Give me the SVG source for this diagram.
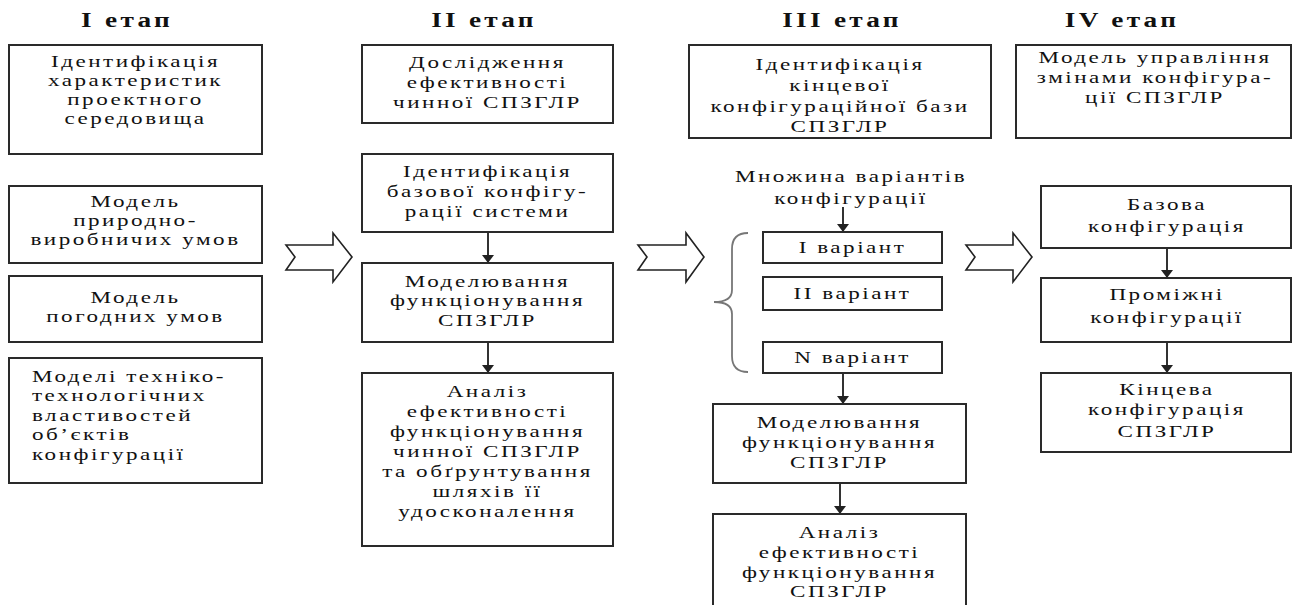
<svg xmlns="http://www.w3.org/2000/svg" width="1293" height="605" viewBox="0 0 1293 605">
<style>
.box{fill:#fff;stroke:#2a2a2a;stroke-width:2}
.t{font-family:"Liberation Serif","Times New Roman",serif;font-size:16.5px;letter-spacing:1.8px;fill:#111;text-anchor:middle}
.l{text-anchor:start}
.h{font-family:"Liberation Serif","Times New Roman",serif;font-size:21px;font-weight:bold;letter-spacing:2.5px;fill:#111;text-anchor:middle}
.c{stroke:#333;stroke-width:2;fill:none}
.big{fill:#fff;stroke:#222;stroke-width:1.6;stroke-linejoin:miter}
.brace{fill:none;stroke:#777;stroke-width:1.8}
</style>
<defs>
<marker id="ah" viewBox="0 0 8 12" refX="8" refY="6" markerWidth="8" markerHeight="12" markerUnits="userSpaceOnUse" orient="auto">
<path d="M0,0 L8,6 L0,12 z" fill="#222"/>
</marker>
</defs>
<rect width="1293" height="605" fill="#fff"/>

<g id="headers">
<text class="h" transform="translate(127 0) scale(1.3 1)" y="27">I етап</text>
<text class="h" transform="translate(484 0) scale(1.3 1)" y="27">II етап</text>
<text class="h" transform="translate(842 0) scale(1.3 1)" y="27">III етап</text>
<text class="h" transform="translate(1122 0) scale(1.3 1)" y="27">IV етап</text>
</g>

<g id="connectors">
<line class="c" x1="488" y1="232" x2="488" y2="263" marker-end="url(#ah)"/>
<line class="c" x1="488" y1="342" x2="488" y2="373" marker-end="url(#ah)"/>
<line class="c" x1="843" y1="207" x2="843" y2="232" marker-end="url(#ah)"/>
<line class="c" x1="843" y1="373" x2="843" y2="404" marker-end="url(#ah)"/>
<line class="c" x1="840" y1="483" x2="840" y2="514" marker-end="url(#ah)"/>
<line class="c" x1="1167" y1="248" x2="1167" y2="278" marker-end="url(#ah)"/>
<line class="c" x1="1167" y1="342" x2="1167" y2="373" marker-end="url(#ah)"/>
<path class="big" d="M286,245 L333,245 L333,233 L352,257 L333,282 L333,270 L286,270 L295,257 Z"/>
<path class="big" d="M638,245 L686,245 L686,233 L704,257 L686,282 L686,270 L638,270 L647,257 Z"/>
<path class="big" d="M966,245 L1013,245 L1013,233 L1032,257 L1013,282 L1013,270 L966,270 L975,257 Z"/>
<path class="brace" d="M748,233 Q732,233 732,249 L732,290 Q732,302 714,302 Q732,302 732,314 L732,356 Q732,372 748,372"/>
</g>

<g id="n1a"><rect class="box" x="9" y="45" width="253" height="109"/>
<text class="t" transform="translate(135.5 0) scale(1.4 1)" y="67">Ідентифікація</text>
<text class="t" transform="translate(135.5 0) scale(1.4 1)" y="86">характеристик</text>
<text class="t" transform="translate(135.5 0) scale(1.4 1)" y="105">проектного</text>
<text class="t" transform="translate(135.5 0) scale(1.4 1)" y="124">середовища</text></g>

<g id="n1b"><rect class="box" x="9" y="186" width="253" height="77"/>
<text class="t" transform="translate(135.5 0) scale(1.4 1)" y="207">Модель</text>
<text class="t" transform="translate(135.5 0) scale(1.4 1)" y="226">природно-</text>
<text class="t" transform="translate(135.5 0) scale(1.4 1)" y="245">виробничих умов</text></g>

<g id="n1c"><rect class="box" x="9" y="276" width="253" height="66"/>
<text class="t" transform="translate(135.5 0) scale(1.4 1)" y="303">Модель</text>
<text class="t" transform="translate(135.5 0) scale(1.4 1)" y="322">погодних умов</text></g>

<g id="n1d"><rect class="box" x="9" y="358" width="253" height="125"/>
<text class="t l" transform="translate(32 0) scale(1.4 1)" y="382">Моделі техніко-</text>
<text class="t l" transform="translate(32 0) scale(1.4 1)" y="401.5">технологічних</text>
<text class="t l" transform="translate(32 0) scale(1.4 1)" y="421">властивостей</text>
<text class="t l" transform="translate(32 0) scale(1.4 1)" y="440.5">об’єктів</text>
<text class="t l" transform="translate(32 0) scale(1.4 1)" y="460">конфігурації</text></g>

<g id="n2a"><rect class="box" x="362" y="45" width="251" height="78"/>
<text class="t" transform="translate(487.5 0) scale(1.4 1)" y="68">Дослідження</text>
<text class="t" transform="translate(487.5 0) scale(1.4 1)" y="88">ефективності</text>
<text class="t" transform="translate(487.5 0) scale(1.4 1)" y="108">чинної СПЗГЛР</text></g>

<g id="n2b"><rect class="box" x="362" y="154" width="251" height="78"/>
<text class="t" transform="translate(487.5 0) scale(1.4 1)" y="177">Ідентифікація</text>
<text class="t" transform="translate(487.5 0) scale(1.4 1)" y="197">базової конфігу-</text>
<text class="t" transform="translate(487.5 0) scale(1.4 1)" y="217">рації системи</text></g>

<g id="n2c"><rect class="box" x="362" y="263" width="251" height="79"/>
<text class="t" transform="translate(487.5 0) scale(1.4 1)" y="287">Моделювання</text>
<text class="t" transform="translate(487.5 0) scale(1.4 1)" y="306">функціонування</text>
<text class="t" transform="translate(487.5 0) scale(1.4 1)" y="326">СПЗГЛР</text></g>

<g id="n2d"><rect class="box" x="362" y="373" width="251" height="173"/>
<text class="t" transform="translate(487.5 0) scale(1.4 1)" y="397">Аналіз</text>
<text class="t" transform="translate(487.5 0) scale(1.4 1)" y="417">ефективності</text>
<text class="t" transform="translate(487.5 0) scale(1.4 1)" y="437">функціонування</text>
<text class="t" transform="translate(487.5 0) scale(1.4 1)" y="457">чинної СПЗГЛР</text>
<text class="t" transform="translate(487.5 0) scale(1.4 1)" y="477">та обґрунтування</text>
<text class="t" transform="translate(487.5 0) scale(1.4 1)" y="497">шляхів її</text>
<text class="t" transform="translate(487.5 0) scale(1.4 1)" y="517">удосконалення</text></g>

<g id="n3a"><rect class="box" x="689" y="45" width="302" height="93"/>
<text class="t" transform="translate(840 0) scale(1.4 1)" y="70">Ідентифікація</text>
<text class="t" transform="translate(840 0) scale(1.4 1)" y="91">кінцевої</text>
<text class="t" transform="translate(840 0) scale(1.4 1)" y="112">конфігураційної бази</text>
<text class="t" transform="translate(840 0) scale(1.4 1)" y="132">СПЗГЛР</text></g>

<g id="n3label">
<text class="t" transform="translate(851 0) scale(1.4 1)" y="182">Множина варіантів</text>
<text class="t" transform="translate(851 0) scale(1.4 1)" y="204">конфігурації</text></g>

<g id="n3v1"><rect class="box" x="763" y="232" width="179" height="31"/>
<text class="t" transform="translate(852.5 0) scale(1.4 1)" y="253">I варіант</text></g>

<g id="n3v2"><rect class="box" x="763" y="277" width="179" height="33"/>
<text class="t" transform="translate(852.5 0) scale(1.4 1)" y="299">II варіант</text></g>

<g id="n3vn"><rect class="box" x="763" y="342" width="179" height="31"/>
<text class="t" transform="translate(852.5 0) scale(1.4 1)" y="363">N варіант</text></g>

<g id="n3b"><rect class="box" x="713" y="404" width="253" height="79"/>
<text class="t" transform="translate(839.5 0) scale(1.4 1)" y="428">Моделювання</text>
<text class="t" transform="translate(839.5 0) scale(1.4 1)" y="448">функціонування</text>
<text class="t" transform="translate(839.5 0) scale(1.4 1)" y="468">СПЗГЛР</text></g>

<g id="n3c"><rect class="box" x="713" y="514" width="253" height="110"/>
<text class="t" transform="translate(839.5 0) scale(1.4 1)" y="538">Аналіз</text>
<text class="t" transform="translate(839.5 0) scale(1.4 1)" y="558">ефективності</text>
<text class="t" transform="translate(839.5 0) scale(1.4 1)" y="578">функціонування</text>
<text class="t" transform="translate(839.5 0) scale(1.4 1)" y="597">СПЗГЛР</text></g>

<g id="n4a"><rect class="box" x="1016" y="45" width="275" height="93"/>
<text class="t" transform="translate(1155 0) scale(1.4 1)" y="63">Модель управління</text>
<text class="t" transform="translate(1155 0) scale(1.4 1)" y="83">змінами конфігура-</text>
<text class="t" transform="translate(1155 0) scale(1.4 1)" y="103">ції СПЗГЛР</text></g>

<g id="n4b"><rect class="box" x="1041" y="186" width="250" height="62"/>
<text class="t" transform="translate(1167 0) scale(1.4 1)" y="210">Базова</text>
<text class="t" transform="translate(1167 0) scale(1.4 1)" y="232">конфігурація</text></g>

<g id="n4c"><rect class="box" x="1041" y="278" width="250" height="64"/>
<text class="t" transform="translate(1167 0) scale(1.4 1)" y="300">Проміжні</text>
<text class="t" transform="translate(1167 0) scale(1.4 1)" y="323">конфігурації</text></g>

<g id="n4d"><rect class="box" x="1041" y="373" width="250" height="79"/>
<text class="t" transform="translate(1167 0) scale(1.4 1)" y="395">Кінцева</text>
<text class="t" transform="translate(1167 0) scale(1.4 1)" y="415">конфігурація</text>
<text class="t" transform="translate(1167 0) scale(1.4 1)" y="437">СПЗГЛР</text></g>
</svg>
